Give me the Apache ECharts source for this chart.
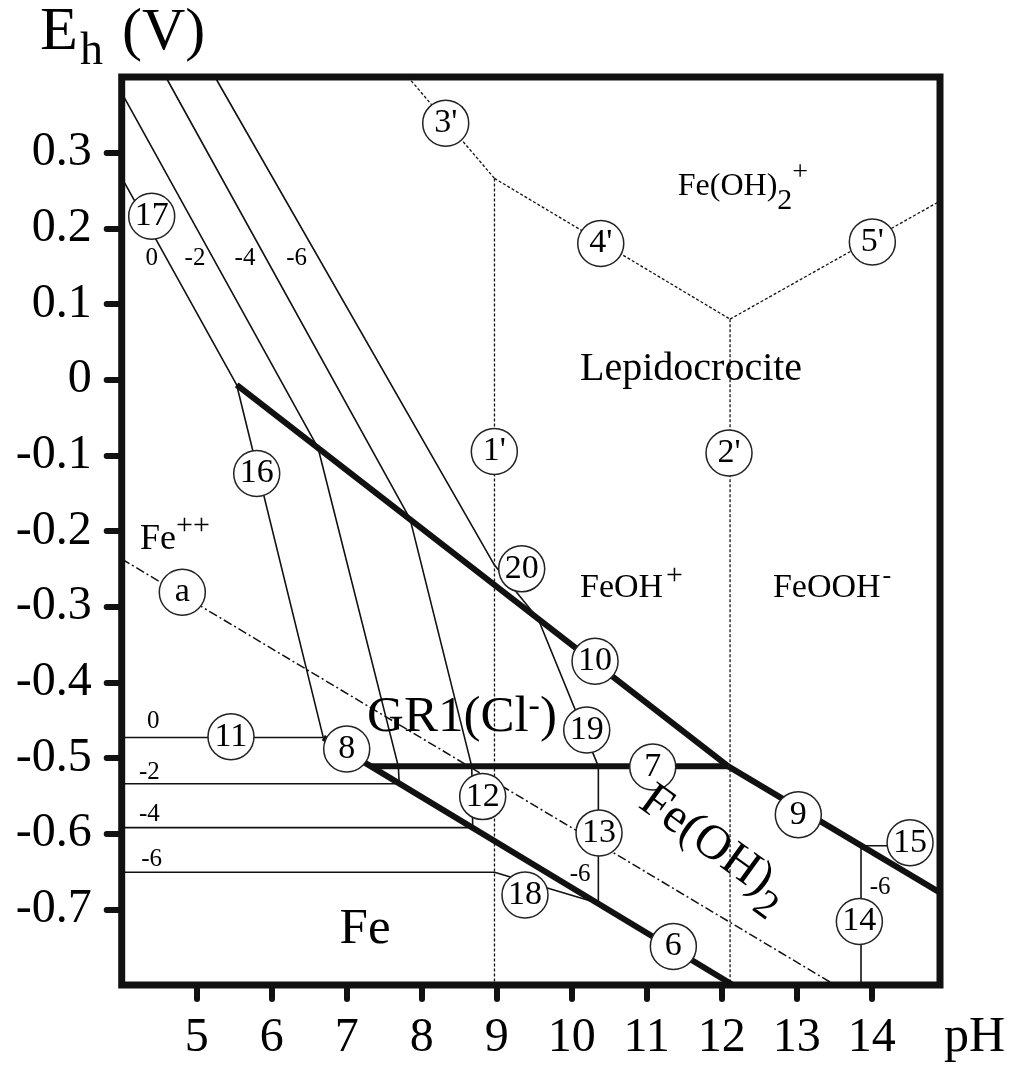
<!DOCTYPE html>
<html>
<head>
<meta charset="utf-8">
<title>Eh-pH diagram with GR1(Cl-)</title>
<script src="https://cdn.jsdelivr.net/npm/echarts@6.0.0/dist/echarts.min.js"></script>
<style>
  html, body { margin: 0; padding: 0; background: #fff; }
  #eh-ph { width: 1010px; height: 1065px; }
</style>
</head>
<body>
<div id="eh-ph"></div>
<script>
 var SERIF = 'Liberation Serif';

 // axis ticks
 var phTicks = [5, 6, 7, 8, 9, 10, 11, 12, 13, 14];
 var ehTicks = [0.3, 0.2, 0.1, 0, -0.1, -0.2, -0.3, -0.4, -0.5, -0.6, -0.7];

 // Fe++ / lepidocrocite, then Fe++ / GR1 boundaries, log[Fe++] = 0, -2, -4, -6
 var bound0 = [[4.0, 0.267], [5.533, -0.007], [6.688, -0.473]];
 var bound2 = [[4.0, 0.379], [6.617, -0.090], [7.688, -0.511], [7.70, -0.534]];
 var bound4 = [[4.588, 0.4], [7.844, -0.184], [8.667, -0.511], [8.68, -0.592]];
 var bound6 = [[5.244, 0.4], [8.97, -0.245], [9.551, -0.316], [10.355, -0.511], [10.355, -0.692]];

 // Fe / Fe++ levels (line 11 family, 18 for -6)
 var feLevel0 = [[4.0, -0.473], [6.688, -0.473]];
 var feLevel2 = [[4.0, -0.534], [7.70, -0.534]];
 var feLevel4 = [[4.0, -0.592], [8.68, -0.592]];
 var feLevel6 = [[4.0, -0.651], [8.97, -0.651], [10.355, -0.692]];

 // solid phase boundaries (thick)
 var line10 = [[5.533, -0.007], [12.088, -0.511]];
 var line9 = [[12.088, -0.511], [14.91, -0.678]];
 var line7 = [[7.32, -0.511], [12.088, -0.511]];
 var line8 = [[6.688, -0.473], [12.15, -0.8]];

 // right side, log = -6
 var line14 = [[13.857, -0.616], [13.857, -0.8]];
 var line15 = [[13.857, -0.616], [14.5, -0.616]];

 // dissolved species limits (dotted)
 var line1p = [[8.97, 0.266], [8.97, -0.8]];
 var line2p = [[12.111, 0.080], [12.111, -0.8]];
 var line3p = [[7.817, 0.4], [8.97, 0.266]];
 var line4p = [[8.97, 0.266], [12.111, 0.080]];
 var line5p = [[12.111, 0.080], [14.91, 0.236]];

 // water reduction, line a
 var lineA = [[4.0, -0.237], [13.51, -0.8]];

 // circled numbers
 var circleNames = ['17', "3'", "4'", "5'", "1'", "2'", '16', 'a', '20', '10', '19', '7', '13', '18', '6', '9', '15', '14', '11', '8', '12'];
 var circlePH = [4.4, 8.32, 10.387, 14.008, 8.968, 12.097, 5.8, 4.808, 9.333, 10.311, 10.2, 11.08, 10.364, 9.377, 11.355, 13.021, 14.511, 13.835, 5.457, 7.0, 8.813];
 var circleEh = [0.216, 0.339, 0.180, 0.182, -0.095, -0.097, -0.124, -0.281, -0.250, -0.372, -0.463, -0.512, -0.599, -0.681, -0.749, -0.575, -0.612, -0.716, -0.472, -0.488, -0.551];

 // log[Fe++] tags
 var levelNames = ['0', '-2', '-4', '-6', '0', '-2', '-4', '-6', '-6', '-6'];
 var levelPH = [4.4, 4.977, 5.644, 6.333, 4.421, 4.368, 4.368, 4.4, 10.111, 14.111];
 var levelEh = [0.1605, 0.1605, 0.1605, 0.1605, -0.4517, -0.519, -0.5749, -0.6343, -0.6543, -0.6717];

 // domain names
 var regionNames = ['Lepidocrocite', 'Fe(OH)2+', 'FeOH+', 'FeOOH-', 'Fe++', 'GR1(Cl-)', 'Fe(OH)2', 'Fe'];
 var regionPH = [11.591, 12.283, 10.797, 13.471, 4.71, 8.537, 11.9, 7.244];
 var regionEh = [0.013, 0.2705, -0.262, -0.262, -0.196, -0.436, -0.617, -0.7266];

 // rich text for sub / superscripts
 var regionFormat = {
     'Lepidocrocite': '{lep|Lepidocrocite}',
     'Fe(OH)2+': '{f1|Fe(OH)}{f1sub|2}{f1sup|+}',
     'FeOH+': '{f2|FeOH}{f2sup|+}',
     'FeOOH-': '{f2|FeOOH}{f2min|-}',
     'Fe++': '{f3|Fe}{f3sup|++}',
     'GR1(Cl-)': '{g|GR1(Cl}{gsup|-}{g|)}',
     'Fe(OH)2': '{h|Fe(OH)}{hsub|2}',
     'Fe': '{fe|Fe}'
 };
 var regionRotate = {'Fe(OH)2': -36};

 function tok(size, top, left) {
     return {fontSize: size, lineHeight: size, fontFamily: SERIF, color: '#000',
         verticalAlign: 'top', padding: [top || 0, 0, 0, left || 0]};
 }
 var rich = {
     lep: tok(40, 0),
     f1: tok(32, 12), f1sub: tok(30, 27), f1sup: tok(28, 0),
     f2: tok(34, 10), f2sup: tok(30, 0, 3), f2min: tok(26, 2, 2),
     f3: tok(36, 12), f3sup: tok(30, 1),
     g: tok(51, 8), gsup: tok(34, 6),
     h: tok(49, 0), hsub: tok(40, 23),
     fe: tok(51, 0)
 };

 function seg(data, width, dash, z) {
     return {
         type: 'line',
         data: data,
         symbol: 'none',
         silent: true,
         z: z,
         lineStyle: {color: '#111', width: width, type: dash || 'solid'}
     };
 }

 var series = [
     seg(bound0, 1.6, null, 2), seg(bound2, 1.6, null, 2), seg(bound4, 1.6, null, 2), seg(bound6, 1.6, null, 2),
     seg(feLevel0, 1.6, null, 2), seg(feLevel2, 1.6, null, 2), seg(feLevel4, 1.6, null, 2), seg(feLevel6, 1.6, null, 2),
     seg(line14, 1.6, null, 2), seg(line15, 1.6, null, 2),
     seg(line1p, 1.3, [3, 2], 1), seg(line2p, 1.3, [3, 2], 1), seg(line3p, 1.3, [3, 2], 1),
     seg(line4p, 1.3, [3, 2], 1), seg(line5p, 1.3, [3, 2], 1),
     seg(lineA, 1.5, [9, 3, 2, 3], 1),
     seg(line10, 6, null, 3), seg(line9, 6, null, 3), seg(line7, 6, null, 3), seg(line8, 6, null, 3)
 ];

 series.push({
     type: 'scatter',
     silent: true,
     z: 10,
     symbol: 'circle',
     symbolSize: 46,
     itemStyle: {color: '#fff', borderColor: '#222', borderWidth: 1.5, opacity: 1},
     label: {show: true, position: 'inside', formatter: '{b}', fontSize: 34, fontFamily: SERIF, color: '#000'},
     data: circleNames.map(function (n, i) {
         return {name: n, value: [circlePH[i], circleEh[i]]};
     })
 });

 series.push({
     type: 'scatter',
     silent: true,
     z: 11,
     symbolSize: 1,
     itemStyle: {color: 'transparent', opacity: 1},
     label: {show: true, position: 'inside', formatter: '{b}', fontSize: 25, fontFamily: SERIF, color: '#000'},
     data: levelNames.map(function (n, i) {
         return {name: n, value: [levelPH[i], levelEh[i]]};
     })
 });

 series.push({
     type: 'scatter',
     silent: true,
     z: 12,
     symbolSize: 1,
     itemStyle: {color: 'transparent', opacity: 1},
     label: {show: true, position: 'inside', rich: rich, fontFamily: SERIF, color: '#000'},
     data: regionNames.map(function (n, i) {
         return {
             name: n,
             value: [regionPH[i], regionEh[i]],
             label: {formatter: regionFormat[n], rotate: regionRotate[n] || 0}
         };
     })
 });

 var chart = echarts.init(document.getElementById('eh-ph'));
 chart.setOption({
     animation: false,
     backgroundColor: '#fff',
     textStyle: {fontFamily: SERIF, color: '#000'},
     grid: {
         left: 121.7, top: 77, width: 818.3, height: 908,
         show: true, borderColor: '#111', borderWidth: 7
     },
     xAxis: {
         type: 'value', min: 4, max: 14.91, interval: 1,
         axisLine: {show: false, onZero: false},
         splitLine: {show: false},
         axisTick: {show: true, customValues: phTicks, length: 14, lineStyle: {color: '#111', width: 6, cap: 'round'}},
         axisLabel: {customValues: phTicks, margin: 29, fontSize: 48, fontFamily: SERIF, color: '#000'}
     },
     yAxis: {
         type: 'value', min: -0.8, max: 0.4, interval: 0.1,
         axisLine: {show: false, onZero: false},
         splitLine: {show: false},
         axisTick: {show: true, customValues: ehTicks, length: 15, lineStyle: {color: '#111', width: 6, cap: 'round'}},
         axisLabel: {
             customValues: ehTicks, margin: 30, fontSize: 48, fontFamily: SERIF, color: '#000',
             padding: [10, 0, 0, 0],
             formatter: function (v) {
                 return String(Math.round(v * 10) / 10);
             }
         }
     },
     graphic: [
         {type: 'text', x: 40, y: 33, style: {text: 'E', fontSize: 62, fontFamily: SERIF, fill: '#000', verticalAlign: 'middle'}},
         {type: 'text', x: 80, y: 52, style: {text: 'h', fontSize: 46, fontFamily: SERIF, fill: '#000', verticalAlign: 'middle'}},
         {type: 'text', x: 122, y: 33, style: {text: '(V)', fontSize: 60, fontFamily: SERIF, fill: '#000', verticalAlign: 'middle'}},
         {type: 'text', x: 944, y: 1038, style: {text: 'pH', fontSize: 50, fontFamily: SERIF, fill: '#000', verticalAlign: 'middle'}}
     ],
     series: series
 });
</script>
</body>
</html>
